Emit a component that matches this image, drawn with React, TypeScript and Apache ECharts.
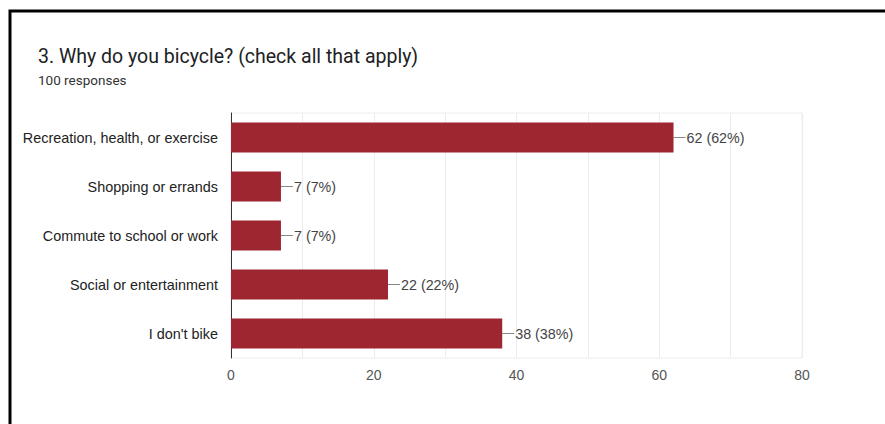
import React, { useEffect, useRef } from "react";
import * as echarts from "echarts";

const categories = [
  "Recreation, health, or exercise",
  "Shopping or errands",
  "Commute to school or work",
  "Social or entertainment",
  "I don't bike",
];
const counts = [62, 7, 7, 22, 38];
const totalResponses = 100;
const xTicks = [0, 20, 40, 60, 80];
const titleText = "3. Why do you bicycle? (check all that apply)";
const subtitleText = `${totalResponses} responses`;

export default function App() {
  const ref = useRef<HTMLDivElement>(null);
  useEffect(() => {
    if (!ref.current) return;
    const chart = echarts.init(ref.current, null, { renderer: "svg" });
    chart.setOption({
      animation: false,
      backgroundColor: "#ffffff",
      title: {
        text: titleText,
        subtext: subtitleText,
        left: 38,
        top: 46,
        padding: 0,
        itemGap: 7,
        textStyle: {
          fontFamily: "Roboto",
          fontSize: 19.5,
          fontWeight: "normal",
          color: "#202124",
        },
        subtextStyle: {
          fontFamily: "Roboto",
          fontSize: 13.5,
          color: "#333333",
        },
      },
      graphic: [
        {
          type: "polyline",
          silent: true,
          shape: { points: [[10, 500], [10, 11], [900, 11]] },
          style: { stroke: "#000000", lineWidth: 3, fill: null },
        },
      ],
      grid: {
        left: 231,
        right: 83,
        top: 113,
        bottom: 66,
        show: true,
        borderColor: "#ececec",
        borderWidth: 1,
      },
      xAxis: {
        type: "value",
        min: xTicks[0],
        max: xTicks[xTicks.length - 1],
        interval: xTicks[1] - xTicks[0],
        axisLine: { show: false },
        axisTick: { show: false },
        axisLabel: {
          fontFamily: "Liberation Sans, Arial",
          fontSize: 14,
          color: "#555555",
          margin: 10,
        },
        splitLine: { show: true, lineStyle: { color: "#ececec", width: 1 } },
        minorTick: { show: false, splitNumber: 2 },
        minorSplitLine: { show: true, lineStyle: { color: "#ececec", width: 1 } },
      },
      yAxis: {
        type: "category",
        data: categories,
        inverse: true,
        axisLine: { show: true, lineStyle: { color: "#333333", width: 1 } },
        axisTick: { show: false },
        axisLabel: {
          fontFamily: "Liberation Sans, Arial",
          fontSize: 14.4,
          color: "#222222",
          margin: 13,
        },
        splitLine: { show: false },
      },
      series: [
        {
          type: "bar",
          data: counts,
          barCategoryGap: "39%",
          itemStyle: { color: "#9e2630" },
          label: {
            show: true,
            position: "right",
            distance: 0,
            formatter: (p: any) =>
              `{l|}{t|${p.value} (${Math.round((p.value / totalResponses) * 100)}%)}`,
            rich: {
              l: { width: 12, height: 1, backgroundColor: "#888888" },
              t: {
                fontFamily: "Liberation Sans, Arial",
                fontSize: 14.3,
                color: "#444444",
                padding: [0, 0, 0, 1],
              },
            },
          },
        },
      ],
    });
    return () => chart.dispose();
  }, []);
  return (
    <div
      ref={ref}
      style={{ position: "fixed", left: 0, top: 0, width: 885, height: 424 }}
    />
  );
}
